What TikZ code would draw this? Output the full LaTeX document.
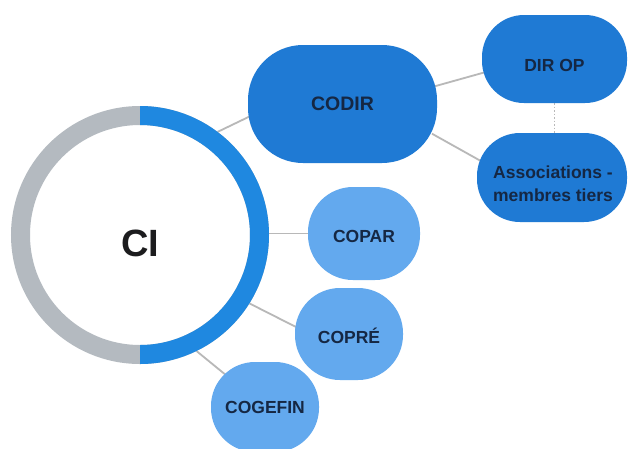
\documentclass[tikz,border=0pt]{standalone}
\usepackage{fontspec}
\setmainfont{Liberation Sans}
\usetikzlibrary{calc}
\definecolor{ringblue}{HTML}{1F88E0}
\definecolor{ringgray}{HTML}{B4BAC0}
\definecolor{darkbox}{HTML}{1F7AD4}
\definecolor{lightbox}{HTML}{63A9EE}
\definecolor{txt}{HTML}{152743}
\definecolor{citxt}{HTML}{1C1C1E}
\definecolor{conn}{HTML}{B8B8B8}
\pgfdeclarelayer{bg}
\pgfsetlayers{bg,main}
\begin{document}
\begin{tikzpicture}[x=1pt,y=-1pt,
  dbox/.style={rectangle, fill=darkbox, inner sep=0pt},
  lbox/.style={rectangle, fill=lightbox, inner sep=0pt},
  lbl/.style={text=txt, inner sep=0pt, align=center,
    font=\bfseries\fontsize{17.5}{22}\selectfont},
  link/.style={draw=conn, line width=1.8pt, shorten <=-6pt, shorten >=-6pt}]
\useasboundingbox (0,0) rectangle (630,448);
% ring
\node[circle, minimum size=258pt, inner sep=0pt, fill=white] (ci) at (140,235) {};
\draw[ringgray, line width=19pt] (ci.center) circle[radius=119.5pt];
\begin{scope}
  \clip (140,0) rectangle (300,448);
  \draw[ringblue, line width=19pt] (ci.center) circle[radius=119.5pt];
\end{scope}
\node[text=citxt, inner sep=0pt, font=\bfseries\fontsize{38}{40}\selectfont] (citext) at (140,243) {CI};
% boxes
\node[dbox, minimum width=189pt, minimum height=118pt, rounded corners=55pt] (codir) at (342.5,104) {};
\node[lbl, font=\bfseries\fontsize{19.5}{22}\selectfont] (codirt) at (342.5,103.5) {CODIR};
\node[dbox, minimum width=145pt, minimum height=88pt, rounded corners=42pt] (dirop) at (554.5,59) {};
\node[lbl] (diropt) at (554.5,65) {DIR OP};
\node[dbox, minimum width=150pt, minimum height=89pt, rounded corners=43pt] (assoc) at (552,177.5) {};
\node[lbl, font=\bfseries\fontsize{17.5}{23}\selectfont] (assoct) at (553,184) {Associations -\\membres tiers};
\node[lbox, minimum width=112pt, minimum height=93pt, rounded corners=45pt] (copar) at (364,233.5) {};
\node[lbl] (copart) at (364,236.5) {COPAR};
\node[lbox, minimum width=108pt, minimum height=92pt, rounded corners=45pt] (copre) at (349,334) {};
\node[lbl] (copret) at (349,336) {COPRÉ};
\node[lbox, minimum width=108pt, minimum height=90pt, rounded corners=44pt] (cogefin) at (265,407) {};
\node[lbl] (cogefint) at (265,407.5) {COGEFIN};
% connectors
\begin{pgfonlayer}{bg}
  \fill[white] (0,0) rectangle (630,448);
  \draw[link] (ci.53) -- (codir.188);
  \draw[link] (ci.east |- copar.west) -- (copar.west);
  \draw[link] (ci.-32) -- (copre.172);
  \draw[link] (ci.-64) -- (cogefin.center);
  \draw[link] (codir.11) -- (dirop.191);
  \draw[link] (codir.-19.5) -- (assoc.166);
  \draw[draw=conn, line width=1.9pt, dash pattern=on 1.5pt off 2pt] (dirop.south) -- (dirop.south |- assoc.north);
\end{pgfonlayer}
\end{tikzpicture}
\end{document}
